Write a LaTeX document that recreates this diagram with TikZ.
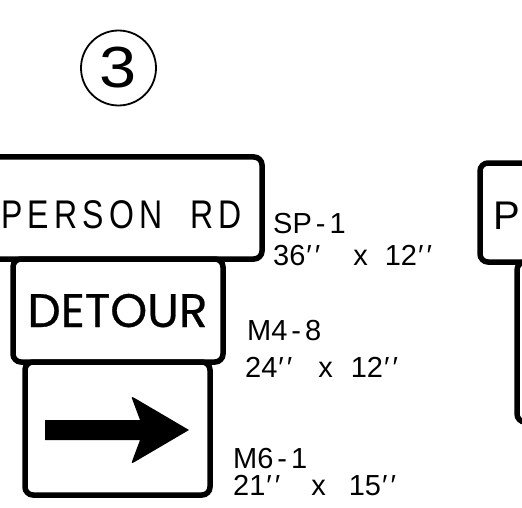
\documentclass[tikz,border=0pt]{standalone}
\usepackage{fontspec}
\setmainfont{Liberation Sans}
\newfontfamily\roadfont[FakeStretch=0.8,LetterSpace=13]{Liberation Sans}
\newfontfamily\detourfont[FakeBold=0.6]{Poppins}
\newcommand{\inch}{\kern1pt′\kern3pt′}
\tikzset{
  sign/.style={draw, line width=5.5pt, rounded corners=8pt, inner sep=0pt},
  signcode/.style={anchor=base west, inner sep=0pt, font=\fontsize{29}{30}\selectfont},
  numring/.style={circle, draw, line width=1.8pt, minimum size=75pt, inner sep=0pt,
    font=\fontsize{58}{58}\selectfont},
}
\begin{document}
\begin{tikzpicture}[x=1pt,y=-1pt]
  \useasboundingbox (0,0) rectangle (522,508);
  % sign number
  \node[numring] (circnum) at (118.5,68) {\scalebox{1.15}[1]{3}};
  % left assembly
  \node[sign, minimum width=287pt, minimum height=102pt] (sp1) at (118.5,208) {};
  \node[sign, minimum width=210pt, minimum height=103pt] (m48) at (118,310.5) {};
  \node[sign, minimum width=185pt, minimum height=133pt] (m61) at (117.5,428.5) {};
  \node[anchor=base west, inner sep=0pt, font=\roadfont\fontsize{40}{40}\selectfont]
    (sp1text) at (1,228) {PERSON\hspace{14pt} RD};
  \node[anchor=base, inner sep=0pt, font=\detourfont\fontsize{47}{47}\selectfont]
    (m48text) at (117.5,327) {DETOUR};
  \fill (45,420) -- (140,420) -- (133.1,401.6) .. controls (131,396) .. (136.2,399)
    -- (189,430) -- (136.2,461) .. controls (131,464) .. (133.1,458.4)
    -- (140,440) -- (45,440) -- cycle;
  % codes and sizes
  \node[signcode] (sp1code) at (273,233) {SP{\kern4pt}-{\kern4pt}1};
  \node[signcode] (sp1size) at (273,265) {36\inch\hspace{33pt}x\hspace{17pt}12\inch};
  \node[signcode] (m48code) at (247,340) {M4{\kern4pt}-{\kern4pt}8};
  \node[signcode] (m48size) at (245,377) {24\inch\hspace{26pt}x\hspace{18pt}12\inch};
  \node[signcode] (m61code) at (233,468) {M6{\kern4pt}-{\kern4pt}1};
  \node[signcode] (m61size) at (233,495) {21\inch\hspace{31pt}x\hspace{23pt}15\inch};
  % right assembly
  \node[sign, minimum width=240pt, minimum height=99pt] (sp1b) at (600,212.5) {};
  \node[sign, minimum width=210pt, minimum height=160pt] (m48b) at (622,342) {};
  \node[anchor=base west, inner sep=0pt, font=\fontsize{40}{40}\selectfont]
    (sp1btext) at (493,229) {P};
\end{tikzpicture}
\end{document}
